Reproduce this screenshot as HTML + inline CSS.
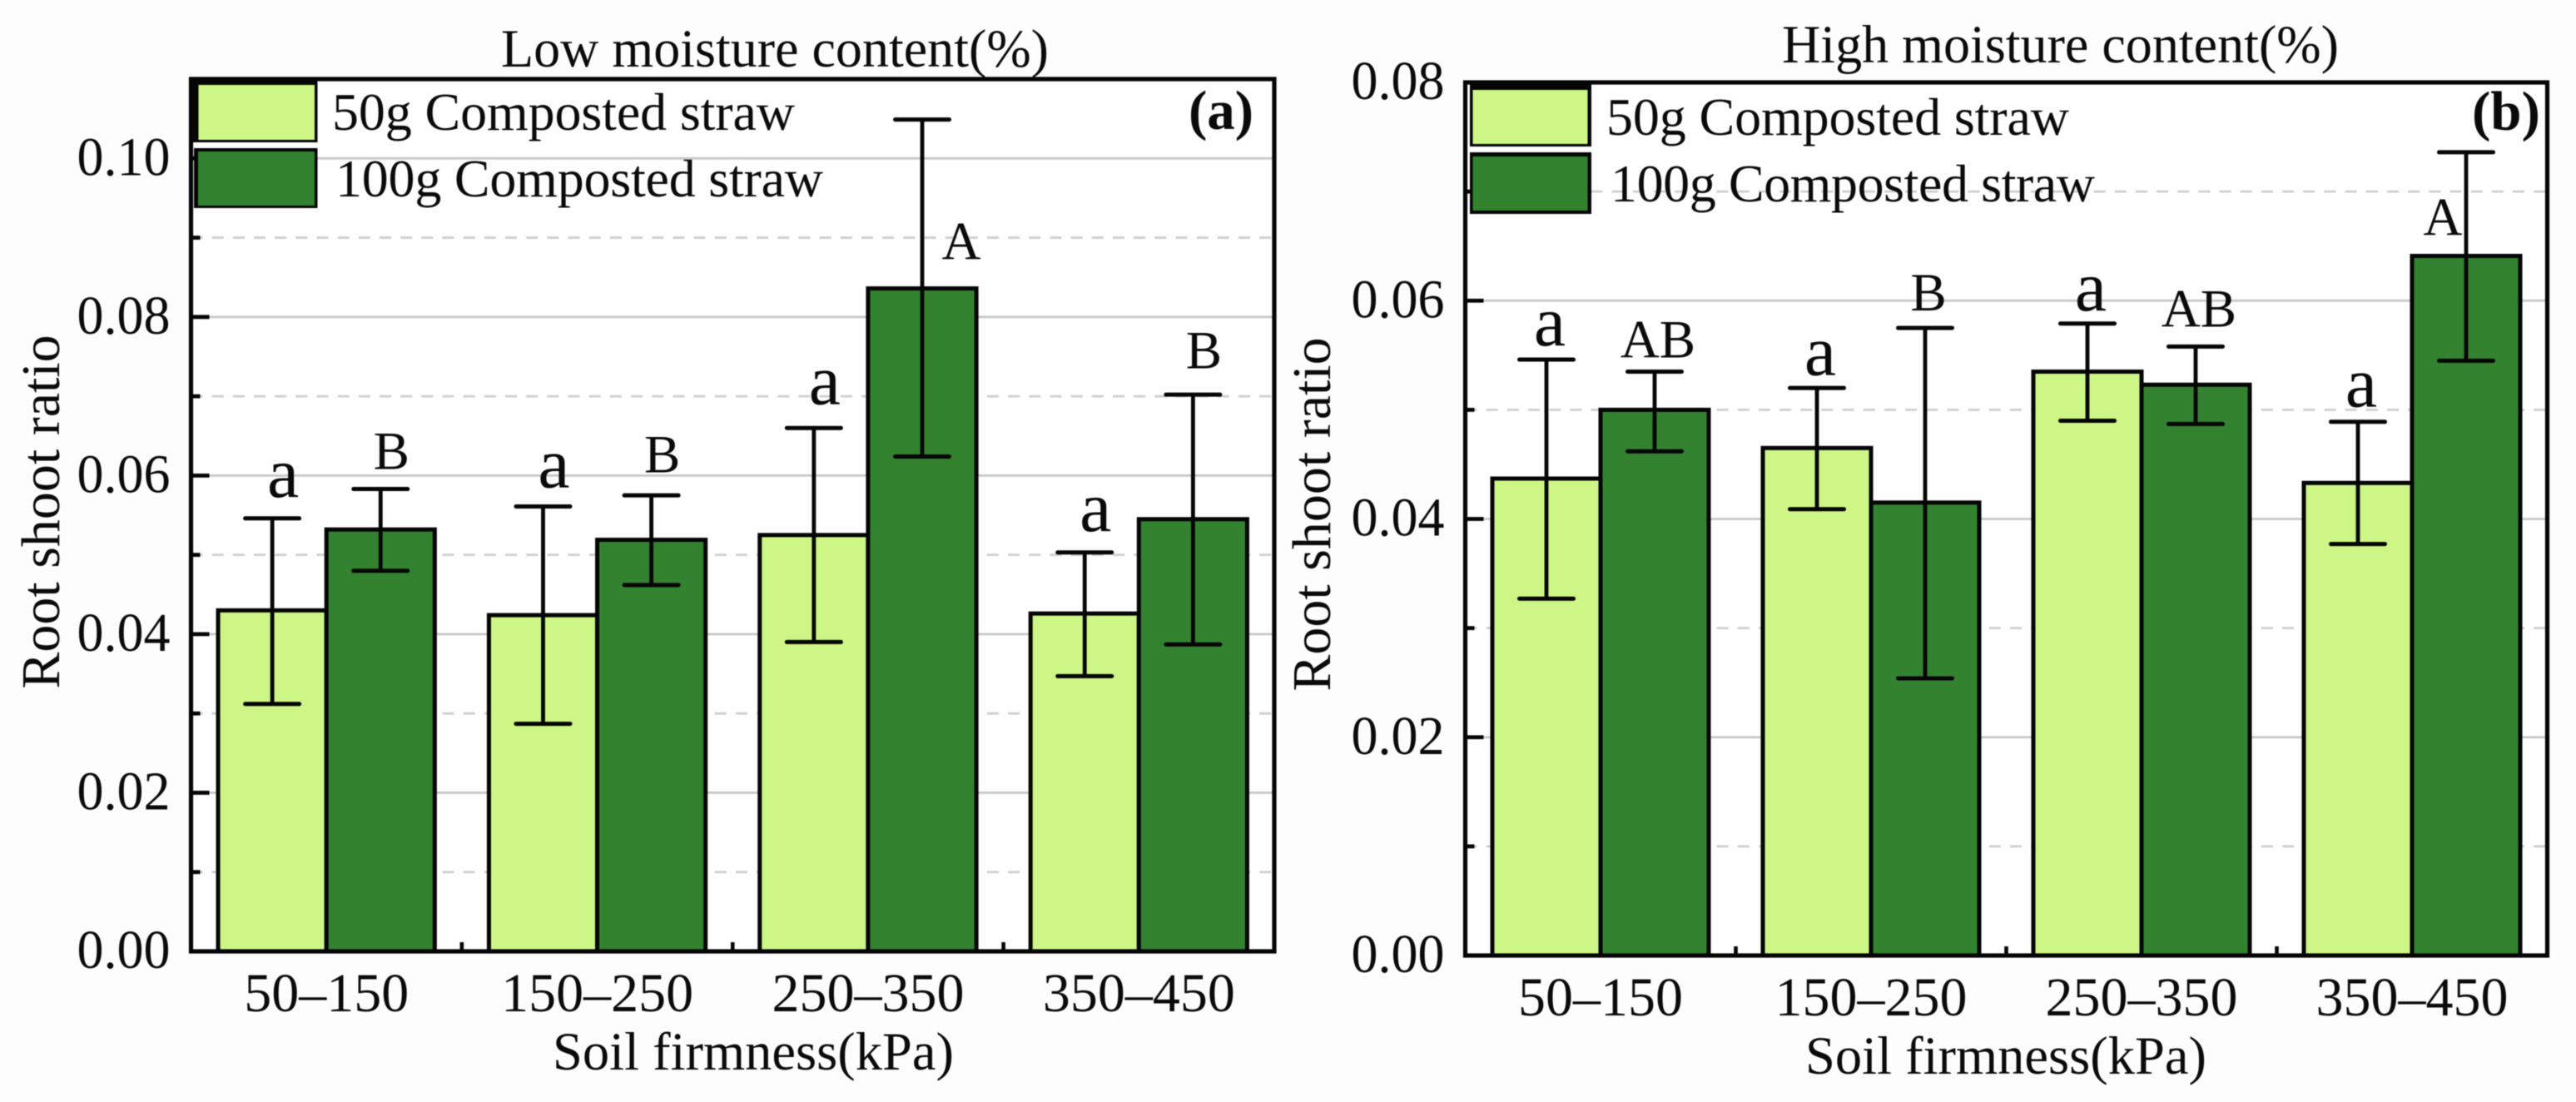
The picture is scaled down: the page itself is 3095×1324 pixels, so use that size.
<!DOCTYPE html>
<html lang="en">
<head>
<meta charset="utf-8">
<title>Root shoot ratio vs soil firmness</title>
<style>
html,body{margin:0;padding:0;background:#fdfdfd;}
body{width:3095px;height:1324px;overflow:hidden;}
svg{display:block;filter:blur(0.5px);}
text{font-family:"Liberation Serif",serif;fill:#0a0a0a;}
</style>
</head>
<body>
<svg id="figure" xmlns="http://www.w3.org/2000/svg" width="3095" height="1324" viewBox="0 0 3095 1324">
  <rect x="0" y="0" width="3095" height="1324" fill="#fdfdfd"/>
  <g id="panel-a"></g>
  <g id="panel-b"></g>

  <text x="602" y="80" font-size="65" textLength="658" lengthAdjust="spacingAndGlyphs">Low moisture content(%)</text>
  <text x="2141" y="75" font-size="65" textLength="669" lengthAdjust="spacingAndGlyphs">High moisture content(%)</text>

  <text transform="translate(71 615) rotate(-90)" text-anchor="middle" font-size="66">Root shoot ratio</text>
  <text transform="translate(1598 618) rotate(-90)" text-anchor="middle" font-size="66">Root shoot ratio</text>

  <text x="905" y="1285" text-anchor="middle" font-size="64.5">Soil firmness(kPa)</text>
  <text x="2410" y="1290" text-anchor="middle" font-size="64.5">Soil firmness(kPa)</text>

  <text x="1428" y="155" font-size="67" font-weight="bold">(a)</text>
  <text x="2970" y="156" font-size="67" font-weight="bold">(b)</text>

  <g>
    <rect x="231" y="95" width="150.5" height="76" fill="#050505"/>
    <rect x="238.5" y="102" width="139.5" height="66" fill="#cdf686"/>
    <text x="399" y="156" font-size="64" textLength="556">50g Composted straw</text>
    <rect x="233" y="178" width="148.5" height="72" fill="#050505"/>
    <rect x="238" y="182" width="140" height="65" fill="#328230"/>
    <text x="403" y="236" font-size="64" textLength="586">100g Composted straw</text>
  </g>
  <g>
    <rect x="1766" y="100" width="146" height="76" fill="#050505"/>
    <rect x="1769.5" y="108" width="138" height="65" fill="#cdf686"/>
    <text x="1930" y="162" font-size="64" textLength="556">50g Composted straw</text>
    <rect x="1766" y="183" width="146" height="74" fill="#050505"/>
    <rect x="1769.5" y="188" width="138" height="65" fill="#328230"/>
    <text x="1935" y="242" font-size="64" textLength="582">100g Composted straw</text>
  </g>
</svg>
<script>
// ---- data ----
const categories = ['50\u2013150', '150\u2013250', '250\u2013350', '350\u2013450'];

const lowTickLabels = ['0.00', '0.02', '0.04', '0.06', '0.08', '0.10'];
const lowMinorTicks = [0.01, 0.03, 0.05, 0.07, 0.09];
const highTickLabels = ['0.00', '0.02', '0.04', '0.06', '0.08'];
const highMinorTicks = [0.01, 0.03, 0.05, 0.07];

const low50Values = [0.0430, 0.0424, 0.0525, 0.0426];
const low50Upper = [0.0546, 0.0561, 0.0660, 0.0503];
const low50Lower = [0.0312, 0.0287, 0.0390, 0.0347];
const low50Letters = ['a', 'a', 'a', 'a'];
const low50LetterLevels = [0.0573, 0.0585, 0.0690, 0.0530];

const low100Values = [0.0532, 0.0519, 0.0836, 0.0545];
const low100Upper = [0.0583, 0.0575, 0.1049, 0.0702];
const low100Lower = [0.0480, 0.0462, 0.0624, 0.0387];
const low100Letters = ['B', 'B', 'A', 'B'];
const low100LetterLevels = [0.0608, 0.0604, 0.0873, 0.0735];

const high50Values = [0.0437, 0.0465, 0.0535, 0.0433];
const high50Upper = [0.0546, 0.0520, 0.0579, 0.0489];
const high50Lower = [0.0327, 0.0409, 0.0490, 0.0377];
const high50Letters = ['a', 'a', 'a', 'a'];
const high50LetterLevels = [0.0559, 0.0532, 0.0591, 0.0503];

const high100Values = [0.0500, 0.0415, 0.0523, 0.0641];
const high100Upper = [0.0535, 0.0575, 0.0558, 0.0736];
const high100Lower = [0.0462, 0.0254, 0.0487, 0.0545];
const high100Letters = ['AB', 'B', 'AB', 'A'];
const high100LetterLevels = [0.0548, 0.0591, 0.0576, 0.0660];

// ---- drawing ----
const NS = 'http://www.w3.org/2000/svg';
const LIGHT = '#cdf686';
const DARK = '#328230';
const INK = '#050505';

function make(tag, parent, attrs) {
  const node = document.createElementNS(NS, tag);
  for (const key in attrs) node.setAttribute(key, attrs[key]);
  parent.appendChild(node);
  return node;
}

function drawPanel(cfg) {
  const g = cfg.group;
  const y = v => cfg.y0 - (v / cfg.yMax) * (cfg.y0 - cfg.top);
  const step = (cfg.right - cfg.left) / categories.length;
  const catCenter = i => cfg.left + step * (i + 0.5);
  const barWidth = step * 0.4;

  // plot background
  const plotBg = make('rect', g, {x: cfg.left, y: cfg.top, width: cfg.right - cfg.left, height: cfg.y0 - cfg.top, fill: '#fefefe'});
  
  

  // major gridlines
  cfg.tickLabels.forEach(label => {
    const v = parseFloat(label);
    if (v <= 0 || v >= cfg.yMax) return;
    const line = make('line', g, {x1: cfg.left, x2: cfg.right, y1: y(v), y2: y(v), stroke: '#c8c8c8', 'stroke-width': 2.8});
    
    
  });

  // minor gridlines
  cfg.minorTicks.forEach(v => {
    const line = make('line', g, {x1: cfg.left, x2: cfg.right, y1: y(v), y2: y(v), stroke: '#cfcfcf', 'stroke-width': 2.8, 'stroke-dasharray': '14 11.17'});
    
    
  });

  // bars
  categories.forEach((cat, i) => {
    const c = catCenter(i);

    const light = make('rect', g, {x: c - barWidth, y: y(cfg.light[i]), width: barWidth, height: cfg.y0 - y(cfg.light[i]), fill: LIGHT, stroke: INK, 'stroke-width': 5});
    
    

    const dark = make('rect', g, {x: c, y: y(cfg.dark[i]), width: barWidth, height: cfg.y0 - y(cfg.dark[i]), fill: DARK, stroke: INK, 'stroke-width': 5});
    
    
  });

  // error bars and letters
  const capHalf = 32.5;
  const drawError = (cx, upper, lower) => {
    const stem = make('line', g, {x1: cx, x2: cx, y1: y(upper), y2: y(lower), stroke: INK, 'stroke-width': 4.8});
    
    

    const capTop = make('line', g, {x1: cx - capHalf, x2: cx + capHalf, y1: y(upper), y2: y(upper), stroke: INK, 'stroke-width': 5, 'stroke-linecap': 'round'});
    
    

    const capBottom = make('line', g, {x1: cx - capHalf, x2: cx + capHalf, y1: y(lower), y2: y(lower), stroke: INK, 'stroke-width': 5, 'stroke-linecap': 'round'});
    
    
  };

  const drawLetter = (cx, level, letter) => {
    const lower = letter === 'a';
    const t = make('text', g, {x: cx, y: y(level), 'text-anchor': 'middle', 'font-size': lower ? 86 : 65});
    t.textContent = letter;
    
    
  };

  categories.forEach((cat, i) => {
    const c = catCenter(i);
    const lightX = c - barWidth / 2;
    const darkX = c + barWidth / 2;
    drawError(lightX, cfg.lightUpper[i], cfg.lightLower[i]);
    drawError(darkX, cfg.darkUpper[i], cfg.darkLower[i]);
    drawLetter(lightX + cfg.letterDx, cfg.lightLevels[i], cfg.lightLetters[i]);
    const dx = cfg.darkLetters[i] === 'A' ? cfg.capitalADx : cfg.letterDx;
    drawLetter(darkX + dx, cfg.darkLevels[i], cfg.darkLetters[i]);
  });

  // frame
  const frame = make('rect', g, {x: cfg.left, y: cfg.top, width: cfg.right - cfg.left, height: cfg.y0 - cfg.top, fill: 'none', stroke: INK, 'stroke-width': 5.2});
  
  

  // y ticks + labels
  cfg.tickLabels.forEach(label => {
    const v = parseFloat(label);
    const tick = make('line', g, {x1: cfg.left, x2: cfg.left + 22, y1: y(v), y2: y(v), stroke: INK, 'stroke-width': 4.8});
    
    

    const t = make('text', g, {x: cfg.left - 25, y: y(v) + 20, 'text-anchor': 'end', 'font-size': 66, textLength: 112, lengthAdjust: 'spacingAndGlyphs'});
    t.textContent = label;
    
    
  });

  cfg.minorTicks.forEach(v => {
    const tick = make('line', g, {x1: cfg.left, x2: cfg.left + 11, y1: y(v), y2: y(v), stroke: INK, 'stroke-width': 4.8});
    
    
  });

  // x category labels + boundary ticks
  categories.forEach((cat, i) => {
    const t = make('text', g, {x: catCenter(i), y: cfg.y0 + 72, 'text-anchor': 'middle', 'font-size': 66});
    t.textContent = cat;
    
    

    if (i > 0) {
      const tx = catCenter(i) - step / 2;
      const tick = make('line', g, {x1: tx, x2: tx, y1: cfg.y0, y2: cfg.y0 - 11, stroke: INK, 'stroke-width': 4.6});
      
      
    }
  });
}

drawPanel({
  group: document.getElementById('panel-a'),
  left: 229.5, right: 1531, top: 95, y0: 1143, yMax: 0.11,
  tickLabels: lowTickLabels, minorTicks: lowMinorTicks,
  light: low50Values, lightUpper: low50Upper, lightLower: low50Lower,
  dark: low100Values, darkUpper: low100Upper, darkLower: low100Lower,
  lightLetters: low50Letters, lightLevels: low50LetterLevels,
  darkLetters: low100Letters, darkLevels: low100LetterLevels,
  letterDx: 13, capitalADx: 47
});

drawPanel({
  group: document.getElementById('panel-b'),
  left: 1760.5, right: 3060.5, top: 99, y0: 1148, yMax: 0.08,
  tickLabels: highTickLabels, minorTicks: highMinorTicks,
  light: high50Values, lightUpper: high50Upper, lightLower: high50Lower,
  dark: high100Values, darkUpper: high100Upper, darkLower: high100Lower,
  lightLetters: high50Letters, lightLevels: high50LetterLevels,
  darkLetters: high100Letters, darkLevels: high100LetterLevels,
  letterDx: 4, capitalADx: -28
});
</script>
</body>
</html>
